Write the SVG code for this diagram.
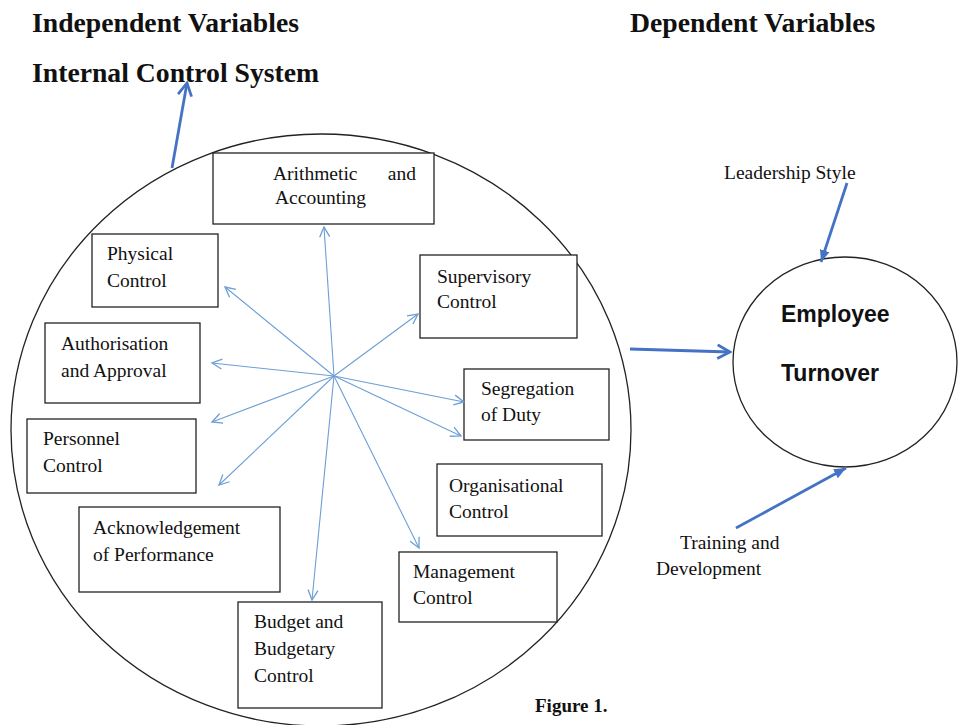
<svg xmlns="http://www.w3.org/2000/svg" width="958" height="725" viewBox="0 0 958 725">
<style>
.h{font-family:"Liberation Serif","Times New Roman",serif;font-weight:bold;font-size:27.7px;fill:#111}
.t{font-family:"Liberation Serif","Times New Roman",serif;font-size:19.5px;fill:#111}
.b{fill:#fff;stroke:#222;stroke-width:1.3}
.c{fill:none;stroke:#222;stroke-width:1.3}
.lb{stroke:#6c9fd6;stroke-width:1.1;fill:none}
.db{stroke:#4472c4;stroke-width:2.8;fill:none}
.et{font-family:"Liberation Sans",Arial,sans-serif;font-weight:bold;font-size:23px;fill:#111}
</style>
<defs>
<marker id="ol" markerUnits="userSpaceOnUse" markerWidth="14" markerHeight="14" refX="11" refY="6" orient="auto" viewBox="0 0 14 12">
<path d="M1,1 L11,6 L1,11" fill="none" stroke="#6c9fd6" stroke-width="1.3"/>
</marker>
<marker id="od" markerUnits="userSpaceOnUse" markerWidth="16" markerHeight="16" refX="12" refY="7" orient="auto" viewBox="0 0 14 14">
<path d="M1,1 L12,7 L1,13" fill="none" stroke="#4472c4" stroke-width="2.4"/>
</marker>
<marker id="fd" markerUnits="userSpaceOnUse" markerWidth="14" markerHeight="14" refX="12" refY="6" orient="auto" viewBox="0 0 14 12">
<path d="M0,1 L12,6 L0,11 Z" fill="#4472c4"/>
</marker>
</defs>
<rect width="958" height="725" fill="#fff"/>
<g id="headers">
<text class="h" x="32" y="32">Independent Variables</text>
<text class="h" x="32" y="82">Internal Control System</text>
<text class="h" x="630" y="32">Dependent Variables</text>
</g>
<g id="ics-circle"><ellipse class="c" cx="321" cy="430" rx="310" ry="296"/></g>
<g id="employee-turnover">
<ellipse class="c" cx="845" cy="362" rx="112" ry="105"/>
<text class="et" x="781" y="322">Employee</text>
<text class="et" x="781" y="381">Turnover</text>
</g>
<g id="arithmetic"><rect class="b" x="213" y="153" width="221" height="71"/>
<text class="t" x="273" y="180">Arithmetic</text><text class="t" x="416" y="180" text-anchor="end">and</text>
<text class="t" x="275" y="204">Accounting</text></g>
<g id="physical"><rect class="b" x="92" y="234" width="126" height="73"/>
<text class="t" x="107" y="260">Physical</text><text class="t" x="107" y="287">Control</text></g>
<g id="authorisation"><rect class="b" x="45" y="323" width="155" height="80"/>
<text class="t" x="61" y="350">Authorisation</text><text class="t" x="61" y="377">and Approval</text></g>
<g id="personnel"><rect class="b" x="27" y="419" width="169" height="74"/>
<text class="t" x="43" y="445">Personnel</text><text class="t" x="43" y="472">Control</text></g>
<g id="acknowledgement"><rect class="b" x="79" y="507" width="201" height="85"/>
<text class="t" x="93" y="534">Acknowledgement</text><text class="t" x="93" y="561">of Performance</text></g>
<g id="budget"><rect class="b" x="238" y="602" width="144" height="106"/>
<text class="t" x="254" y="628">Budget and</text><text class="t" x="254" y="655">Budgetary</text><text class="t" x="254" y="682">Control</text></g>
<g id="supervisory"><rect class="b" x="420" y="255" width="157" height="83"/>
<text class="t" x="437" y="283">Supervisory</text><text class="t" x="437" y="308">Control</text></g>
<g id="segregation"><rect class="b" x="464" y="369" width="145" height="71"/>
<text class="t" x="481" y="395">Segregation</text><text class="t" x="481" y="421">of Duty</text></g>
<g id="organisational"><rect class="b" x="437" y="464" width="165" height="72"/>
<text class="t" x="449" y="492">Organisational</text><text class="t" x="449" y="518">Control</text></g>
<g id="management"><rect class="b" x="399" y="552" width="158" height="70"/>
<text class="t" x="413" y="578">Management</text><text class="t" x="413" y="604">Control</text></g>
<g id="leadership"><text class="t" x="724" y="179">Leadership Style</text></g>
<g id="training"><text class="t" x="680" y="549">Training and</text><text class="t" x="656" y="575">Development</text></g>
<g id="connectors">
<line class="lb" x1="334" y1="376" x2="324" y2="227" marker-end="url(#ol)"/>
<line class="lb" x1="334" y1="376" x2="225" y2="287" marker-end="url(#ol)"/>
<line class="lb" x1="334" y1="376" x2="418" y2="314" marker-end="url(#ol)"/>
<line class="lb" x1="334" y1="376" x2="212" y2="363" marker-end="url(#ol)"/>
<line class="lb" x1="334" y1="376" x2="464" y2="402" marker-end="url(#ol)"/>
<line class="lb" x1="334" y1="376" x2="461" y2="436" marker-end="url(#ol)"/>
<line class="lb" x1="334" y1="376" x2="212" y2="422" marker-end="url(#ol)"/>
<line class="lb" x1="334" y1="376" x2="219" y2="485" marker-end="url(#ol)"/>
<line class="lb" x1="334" y1="376" x2="312" y2="600" marker-end="url(#ol)"/>
<line class="lb" x1="334" y1="376" x2="419" y2="548" marker-end="url(#ol)"/>
<line class="db" x1="172" y1="168" x2="187" y2="83" marker-end="url(#od)"/>
<line class="db" x1="630" y1="349" x2="730" y2="352" marker-end="url(#od)"/>
<line class="db" x1="847" y1="183" x2="821" y2="262" marker-end="url(#fd)"/>
<line class="db" x1="736" y1="528" x2="846" y2="468" marker-end="url(#fd)"/>
</g>
<g id="caption"><text class="h" x="535" y="712" style="font-size:19px">Figure 1.</text></g>
</svg>
